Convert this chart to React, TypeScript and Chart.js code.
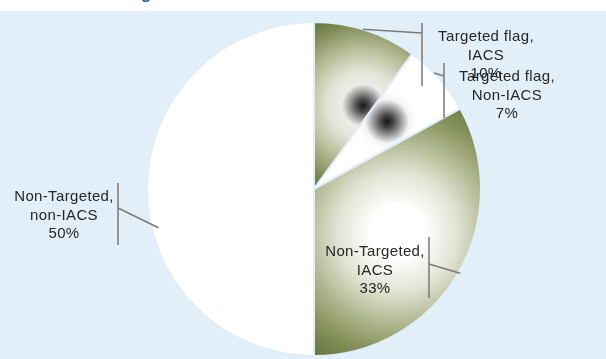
import React, { useEffect, useRef } from "react";
import { Chart, registerables } from "chart.js";

Chart.register(...registerables);

// ---- data ----
const categories = [
  "Targeted flag, IACS",
  "Targeted flag, Non-IACS",
  "Non-Targeted, IACS",
  "Non-Targeted, non-IACS",
];
const labelLines = [
  ["Targeted flag,", "IACS"],
  ["Targeted flag,", "Non-IACS"],
  ["Non-Targeted,", "IACS"],
  ["Non-Targeted,", "non-IACS"],
];
const values = [10, 7, 33, 50];
const percentLabels = ["10%", "7%", "33%", "50%"];

// ---- styling / layout ----
const BG = "rgb(226,238,248)";
const OLIVE = "#65743e";
const BORDER = 2;

type Stop = [number, string];
const sliceStops: Stop[][] = [
  [
    [0, "#181818"],
    [0.06, "#454545"],
    [0.14, "#9a9a9a"],
    [0.22, "#ecece8"],
    [0.36, "#e2e5d6"],
    [0.6, "#b5bb95"],
    [0.85, "#7e8a53"],
    [1, OLIVE],
  ],
  [
    [0, "#161616"],
    [0.06, "#454545"],
    [0.14, "#9a9a9a"],
    [0.22, "#f4f4f4"],
    [0.3, "#ffffff"],
    [1, "#ffffff"],
  ],
  [
    [0, "#ffffff"],
    [0.18, "#ffffff"],
    [0.4, "#e1e4d4"],
    [0.6, "#b3ba94"],
    [0.8, "#86925c"],
    [1, OLIVE],
  ],
  [
    [0, "#ffffff"],
    [1, "#ffffff"],
  ],
];

const labelLayout = [
  { x: 486, y: 37, barX: 422, barTop: 23, barBottom: 86, joinY: 33, angle: 17, rf: 1.0 },
  { x: 507, y: 77, barX: 444, barTop: 63, barBottom: 118, joinY: 76, angle: 46, rf: 1.0 },
  { x: 375, y: 252, barX: 429, barTop: 237, barBottom: 298, joinY: 264, angle: 120, rf: 1.01 },
  { x: 64, y: 197, barX: 118, barTop: 183, barBottom: 245, joinY: 208, angle: 256, rf: 0.96 },
];

function sliceGradient(ctx: any) {
  const chart = ctx.chart;
  const area = chart.chartArea;
  const i = ctx.dataIndex;
  if (!area || i === undefined) return "#ffffff";
  const cx = (area.left + area.right) / 2;
  const cy = (area.top + area.bottom) / 2;
  const r = (Math.min(area.width, area.height) - BORDER) / 2;
  const total = values.reduce((a, b) => a + b, 0);
  let start = -Math.PI / 2;
  for (let k = 0; k < i; k++) start += (2 * Math.PI * values[k]) / total;
  const end = start + (2 * Math.PI * values[i]) / total;
  const pts: [number, number][] = [
    [cx, cy],
    [cx + r * Math.cos(start), cy + r * Math.sin(start)],
    [cx + r * Math.cos(end), cy + r * Math.sin(end)],
  ];
  for (let a = -Math.PI / 2; a <= 2 * Math.PI; a += Math.PI / 2) {
    if (a > start && a < end) pts.push([cx + r * Math.cos(a), cy + r * Math.sin(a)]);
  }
  const xs = pts.map((p) => p[0]);
  const ys = pts.map((p) => p[1]);
  const x0 = Math.min(...xs), x1 = Math.max(...xs);
  const y0 = Math.min(...ys), y1 = Math.max(...ys);
  const gx = (x0 + x1) / 2, gy = (y0 + y1) / 2;
  const gr = Math.hypot(x1 - x0, y1 - y0) / 2;
  const g = chart.ctx.createRadialGradient(gx, gy, 0, gx, gy, gr);
  for (const [o, c] of sliceStops[i]) g.addColorStop(o, c);
  return g;
}

const backgroundPlugin = {
  id: "bgPlugin",
  beforeDraw(chart: any) {
    const c = chart.ctx;
    c.save();
    c.fillStyle = "#ffffff";
    c.fillRect(0, 0, chart.width, chart.height);
    c.fillStyle = BG;
    c.fillRect(0, 11, chart.width, chart.height - 11);
    // cut-off title fragment at top
    c.fillStyle = "#1f5ca8";
    c.font = "bold 17px 'Liberation Sans', Arial, sans-serif";
    c.textAlign = "left";
    c.textBaseline = "alphabetic";
    c.fillText("g", 141, -1);
    c.restore();
  },
};

const labelPlugin = {
  id: "labelPlugin",
  afterDatasetsDraw(chart: any) {
    const meta = chart.getDatasetMeta(0);
    const c = chart.ctx;
    c.save();
    labelLayout.forEach((L, i) => {
      const arc = meta.data[i];
      if (!arc) return;
      const a = (L.angle * Math.PI) / 180;
      const px = arc.x + arc.outerRadius * L.rf * Math.sin(a);
      const py = arc.y - arc.outerRadius * L.rf * Math.cos(a);
      c.strokeStyle = "#7a7a7a";
      c.lineWidth = 1.5;
      c.beginPath();
      c.moveTo(L.barX, L.barTop);
      c.lineTo(L.barX, L.barBottom);
      c.moveTo(L.barX, L.joinY);
      c.lineTo(px, py);
      c.stroke();
      c.fillStyle = "#262626";
      c.font = "15px 'Liberation Sans', Arial, sans-serif";
      (c as any).letterSpacing = "0.35px";
      c.textAlign = "center";
      c.textBaseline = "middle";
      const lines = [...labelLines[i], percentLabels[i]];
      lines.forEach((t, k) => c.fillText(t, L.x, L.y + k * 18.5));
    });
    c.restore();
  },
};

export default function App() {
  const ref = useRef<HTMLCanvasElement>(null);
  useEffect(() => {
    document.body.style.margin = "0";
    const canvas = ref.current;
    if (!canvas) return;
    const chart = new Chart(canvas, {
      type: "pie",
      data: {
        labels: categories,
        datasets: [
          {
            data: values,
            backgroundColor: sliceGradient as any,
            borderColor: BG,
            borderWidth: BORDER,
          },
        ],
      },
      options: {
        responsive: false,
        maintainAspectRatio: false,
        devicePixelRatio: 1,
        animation: false,
        layout: { padding: { top: 21, bottom: 2, left: 146, right: 124 } },
        plugins: {
          legend: { display: false },
          tooltip: { enabled: false },
          title: { display: false },
        },
        events: [],
      },
      plugins: [backgroundPlugin, labelPlugin],
    });
    return () => chart.destroy();
  }, []);
  return (
    <div style={{ width: 606, height: 359 }}>
      <canvas ref={ref} width={606} height={359} style={{ width: 606, height: 359, display: "block" }} />
    </div>
  );
}
